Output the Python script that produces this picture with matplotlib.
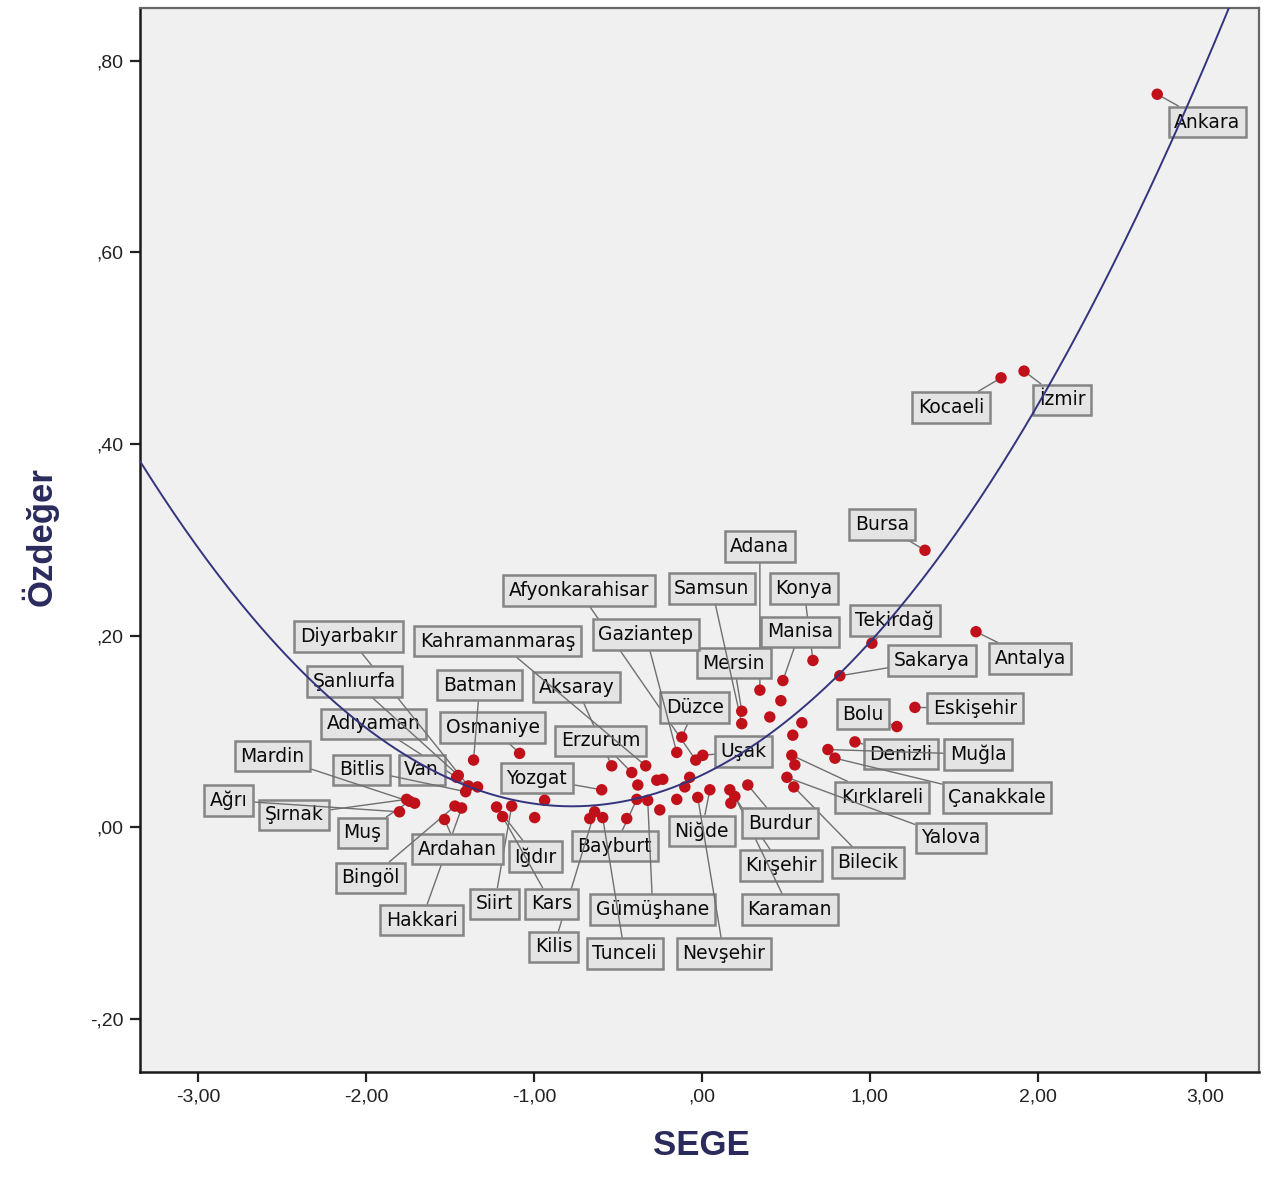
import matplotlib
matplotlib.use("Agg")
import matplotlib.pyplot as plt
import matplotlib.ticker as ticker
import numpy as np

# SEGE (x) and Özdeğer (y) values, one entry per province
sege = [2.712, 1.919, 1.782, 1.329, 1.633, 1.013, 0.822, 1.269, 1.162, 0.912,
        0.662, 0.483, 0.346, 0.471, 0.405, 0.238, 0.238, 0.596, 0.542, 0.751,
        0.793, 0.536, 0.554, 0.507, 0.548, 0.006, -0.036, 0.048, 0.167, 0.197,
        0.274, 0.173, -0.119, -0.149, -0.536, -0.417, -0.334, -0.381, -0.268, -0.232,
        -0.072, -0.101, -0.596, -0.387, -0.322, -0.149, -0.024, -0.250, -0.638, -0.590,
        -0.447, -0.667, -1.085, -1.359, -1.460, -1.335, -1.406, -1.758, -1.710, -1.800,
        -1.430, -1.222, -1.132, -1.186, -0.995, -0.936, -1.532, -1.740, -1.470, -1.390,
        -1.450]
ozdeger = [0.765, 0.476, 0.469, 0.289, 0.204, 0.192, 0.158, 0.125, 0.105, 0.089,
           0.174, 0.153, 0.143, 0.132, 0.115, 0.121, 0.108, 0.109, 0.096, 0.081,
           0.072, 0.075, 0.065, 0.052, 0.042, 0.075, 0.070, 0.039, 0.039, 0.032,
           0.044, 0.025, 0.094, 0.078, 0.064, 0.057, 0.064, 0.044, 0.049, 0.050,
           0.052, 0.042, 0.039, 0.029, 0.028, 0.029, 0.031, 0.018, 0.016, 0.010,
           0.009, 0.009, 0.077, 0.070, 0.052, 0.042, 0.037, 0.029, 0.025, 0.016,
           0.020, 0.021, 0.022, 0.011, 0.010, 0.028, 0.008, 0.027, 0.022, 0.043,
           0.054]
names = ["Ankara", "İzmir", "Kocaeli", "Bursa", "Antalya", "Tekirdağ", "Sakarya", "Eskişehir", "Bolu", "Denizli",
         "Konya", "Manisa", "Adana", "", "", "Mersin", "Samsun", "", "", "Muğla",
         "Çanakkale", "Kırklareli", "", "Yalova", "Bilecik", "Uşak", "Afyonkarahisar", "Niğde", "Kırşehir", "Karaman",
         "Burdur", "", "Düzce", "Gaziantep", "Aksaray", "Erzurum", "Kahramanmaraş", "", "", "",
         "", "", "Yozgat", "Bayburt", "Gümüşhane", "", "Nevşehir", "", "Kilis", "Tunceli",
         "", "", "Osmaniye", "Batman", "Adıyaman", "Van", "Bitlis", "Şırnak", "Mardin", "Ağrı",
         "Hakkari", "Iğdır", "Siirt", "Kars", "", "", "Ardahan", "Muş", "Bingöl", "Diyarbakır",
         "Şanlıurfa"]

# where each label box sits (data coordinates)
label_pos = {
    "Ankara": (3.010, 0.736), "Kocaeli": (1.484, 0.438), "İzmir": (2.145, 0.446),
    "Bursa": (1.073, 0.316), "Adana": (0.346, 0.293), "Samsun": (0.060, 0.249),
    "Konya": (0.608, 0.249), "Manisa": (0.584, 0.204), "Tekirdağ": (1.150, 0.216),
    "Mersin": (0.191, 0.171), "Sakarya": (1.371, 0.174), "Antalya": (1.955, 0.176),
    "Afyonkarahisar": (-0.733, 0.247), "Gaziantep": (-0.334, 0.201),
    "Diyarbakır": (-2.104, 0.199), "Kahramanmaraş": (-1.216, 0.194),
    "Şanlıurfa": (-2.068, 0.152), "Batman": (-1.323, 0.148), "Aksaray": (-0.745, 0.146),
    "Düzce": (-0.042, 0.125), "Bolu": (0.959, 0.118), "Eskişehir": (1.627, 0.124),
    "Adıyaman": (-1.955, 0.108), "Osmaniye": (-1.246, 0.104), "Erzurum": (-0.602, 0.090),
    "Uşak": (0.250, 0.079), "Denizli": (1.186, 0.076), "Muğla": (1.645, 0.076),
    "Mardin": (-2.557, 0.074), "Bitlis": (-2.026, 0.060), "Van": (-1.669, 0.060),
    "Yozgat": (-0.983, 0.051), "Kırklareli": (1.073, 0.031), "Çanakkale": (1.758, 0.031),
    "Ağrı": (-2.819, 0.028), "Şırnak": (-2.426, 0.013), "Muş": (-2.020, -0.006),
    "Ardahan": (-1.454, -0.023), "Iğdır": (-0.989, -0.031), "Bayburt": (-0.518, -0.020),
    "Niğde": (0.000, -0.004), "Burdur": (0.465, 0.004), "Yalova": (1.484, -0.011),
    "Bingöl": (-1.973, -0.053), "Kırşehir": (0.471, -0.040), "Bilecik": (0.989, -0.037),
    "Hakkari": (-1.669, -0.097), "Siirt": (-1.234, -0.080), "Kars": (-0.894, -0.080),
    "Gümüşhane": (-0.292, -0.086), "Karaman": (0.524, -0.086), "Kilis": (-0.882, -0.125),
    "Tunceli": (-0.459, -0.132), "Nevşehir": (0.131, -0.132),
}

# quadratic fit line (coefficients for np.polyval)
fit_coef = [0.05445, 0.0842, 0.0543]

x_ticks = [-3, -2, -1, 0, 1, 2, 3]
y_ticks = [-0.2, 0.0, 0.2, 0.4, 0.6, 0.8]


def spss_fmt(v, pos):
    """Format like SPSS: comma decimal, no leading zero"""
    s = f"{v:.2f}".replace(".", ",")
    if s.startswith("0,"):
        s = s[1:]
    elif s.startswith("-0,"):
        s = "-" + s[2:]
    return s


fig = plt.figure(figsize=(12.64, 11.80), dpi=100)
ax = fig.add_axes([0.1108, 0.0915, 0.8855, 0.9017])
ax.set_facecolor("#f0f0f0")
ax.set_xlim(-3.345, 3.32)
ax.set_ylim(-0.2556, 0.855)

# labels with leader lines
for x, y, n in zip(sege, ozdeger, names):
    if not n:
        continue
    lx, ly = label_pos[n]
    ax.annotate(n, xy=(x, y), xytext=(lx, ly), textcoords="data",
                ha="center", va="center", fontsize=13.5, color="#0a0a0a",
                bbox=dict(boxstyle="square,pad=0.3", fc="#e4e4e4", ec="#858585", lw=1.8),
                arrowprops=dict(arrowstyle="-", color="#707070", lw=1.0,
                                shrinkA=0, shrinkB=0),
                zorder=3)

ax.scatter(sege, ozdeger, s=68, color="#c0101a", edgecolors="none", zorder=4)

xs = np.linspace(-3.345, 3.32, 400)
ax.plot(xs, np.polyval(fit_coef, xs), color="#34347e", lw=1.4, zorder=5)

ax.set_xticks(x_ticks)
ax.set_yticks(y_ticks)
ax.xaxis.set_major_formatter(ticker.FuncFormatter(spss_fmt))
ax.yaxis.set_major_formatter(ticker.FuncFormatter(spss_fmt))
ax.tick_params(direction="out", length=7, width=1.6, labelsize=14,
               colors="#222222", pad=5)
ax.tick_params(top=False, right=False)
for lab in ax.get_xticklabels() + ax.get_yticklabels():
    lab.set_family("Liberation Sans")

for side in ["left", "bottom"]:
    ax.spines[side].set_color("#1a1a1a")
    ax.spines[side].set_linewidth(1.8)
for side in ["top", "right"]:
    ax.spines[side].set_color("#666666")
    ax.spines[side].set_linewidth(1.6)

fig.text(0.555, 0.015, "SEGE", ha="center", va="bottom", fontsize=25,
         fontweight="bold", family="Liberation Sans", color="#2a2a5c")
fig.text(0.032, 0.545, "Özdeğer", ha="center", va="center", rotation=90,
         fontsize=25, fontweight="bold", family="Liberation Sans", color="#2a2a5c")

fig.savefig("out.png", dpi=100)
